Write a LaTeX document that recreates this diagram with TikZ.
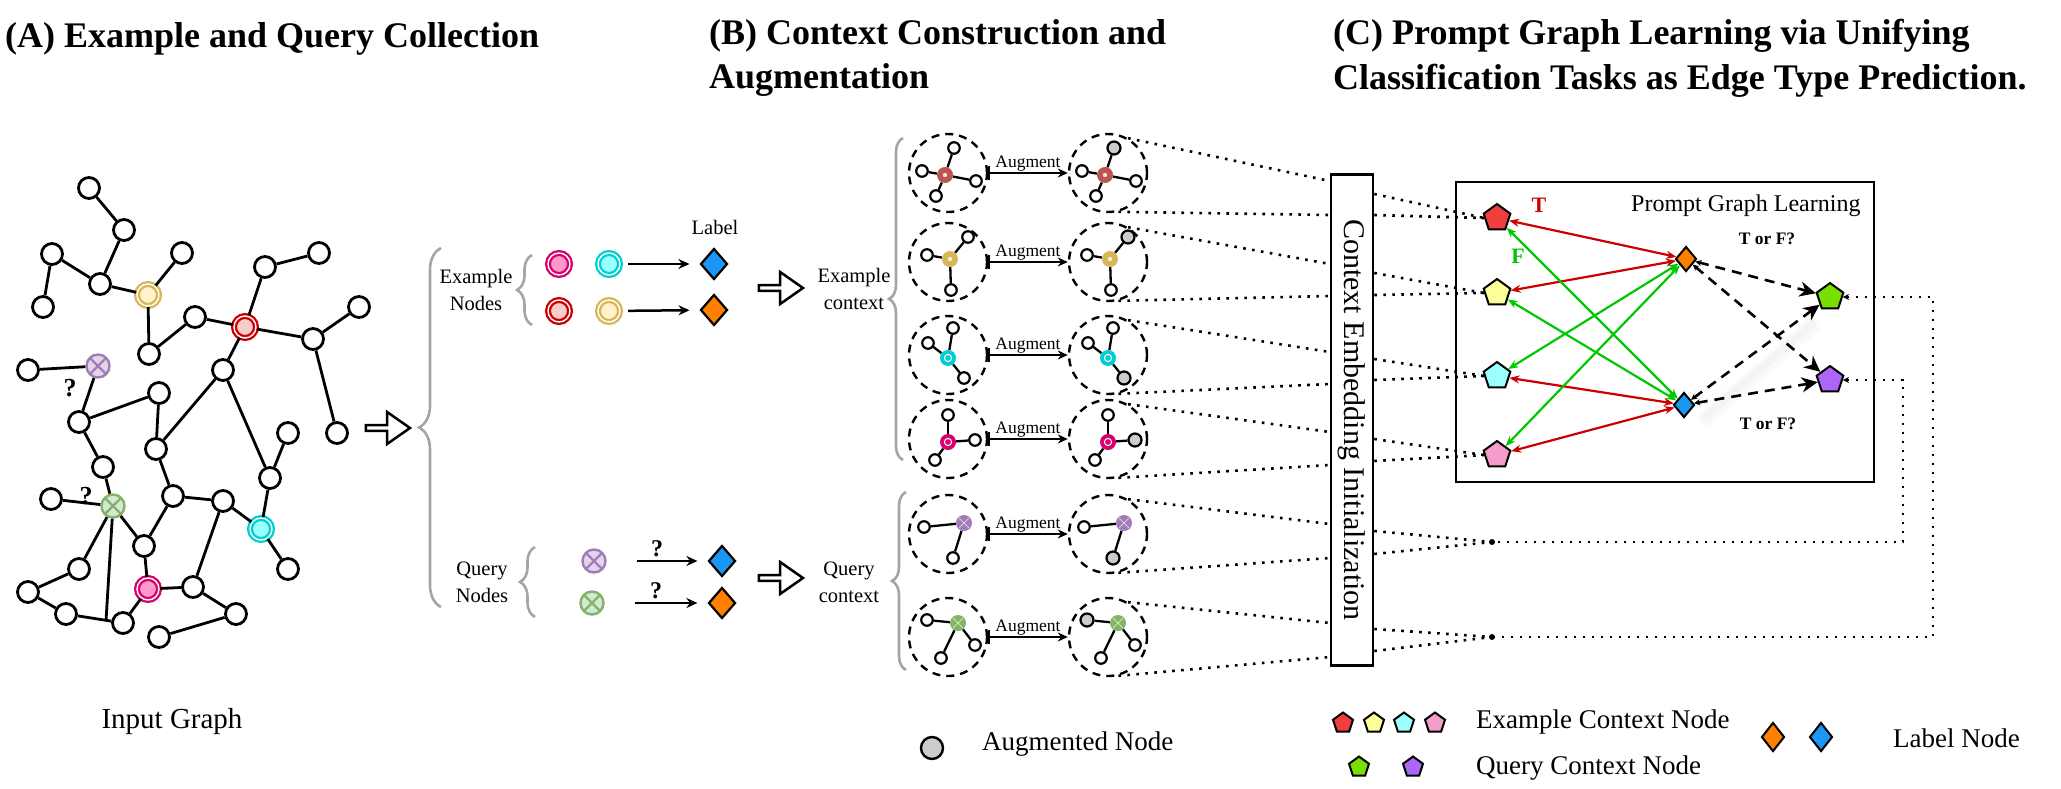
\documentclass[tikz,border=0pt]{standalone}
\usepackage{graphicx}
\usepackage{fontspec}
\setmainfont{Liberation Serif}
\usetikzlibrary{arrows.meta,calc,shapes.geometric,shapes.arrows,decorations.pathreplacing}

\definecolor{exred}{RGB}{204,0,0}
\definecolor{exredf}{RGB}{248,206,204}
\definecolor{exyel}{RGB}{214,182,86}
\definecolor{exyelf}{RGB}{255,242,204}
\definecolor{excya}{RGB}{0,206,209}
\definecolor{excyaf}{RGB}{153,255,255}
\definecolor{expin}{RGB}{214,0,110}
\definecolor{expinf}{RGB}{255,153,204}
\definecolor{qpur}{RGB}{161,124,184}
\definecolor{qpurf}{RGB}{225,213,231}
\definecolor{qgre}{RGB}{130,179,102}
\definecolor{qgref}{RGB}{213,232,212}
\definecolor{ctxred}{RGB}{190,84,78}
\definecolor{lblue}{RGB}{27,150,245}
\definecolor{lorange}{RGB}{255,128,0}
\definecolor{pred}{RGB}{240,62,62}
\definecolor{pyel}{RGB}{255,255,153}
\definecolor{pcya}{RGB}{153,255,255}
\definecolor{ppin}{RGB}{244,156,204}
\definecolor{pgre}{RGB}{119,224,0}
\definecolor{ppur}{RGB}{172,102,250}
\definecolor{tred}{RGB}{204,0,0}
\definecolor{fgreen}{RGB}{0,200,0}
\definecolor{auggray}{RGB}{204,204,204}
\definecolor{bracegray}{RGB}{165,165,165}

\tikzset{
  gnode/.style={circle,draw,line width=2.8pt,fill=white,minimum size=21pt,inner sep=0pt},
  gedge/.style={line width=2.8pt},
  exnode/.style 2 args={circle,draw=#1,double=white,double distance=1.4pt,line width=2.3pt,fill=#2,minimum size=22pt,inner sep=0pt},
  qnode/.style 2 args={circle,draw=#1,fill=#2,line width=2.4pt,minimum size=23pt,inner sep=0pt,
    path picture={\draw[#1,line width=2.2pt] (path picture bounding box.south west) -- (path picture bounding box.north east)
      (path picture bounding box.north west) -- (path picture bounding box.south east);}},
  lbl/.style={diamond,draw,line width=2.2pt,fill=#1,minimum width=27pt,minimum height=31pt,inner sep=0pt},
  larrow/.style={line width=2.5pt,-{Stealth[length=11pt,width=10pt]}},
  bigarrow/.style={single arrow,draw,line width=2.5pt,fill=white,minimum height=44pt,minimum width=32pt,
    single arrow head extend=6pt,single arrow tip angle=70,inner sep=0pt},
  gbrace/.style={decorate,decoration={brace,amplitude=#1},line width=2.6pt,bracegray},
  txt/.style={font=\fontsize{20.5}{27}\selectfont,align=center},
  ttl/.style={font=\fontsize{36}{44.5}\selectfont\bfseries,align=left,inner sep=0pt,anchor=north west},
  qmark/.style={font=\fontsize{26}{30}\selectfont\bfseries,inner sep=1pt},
  ctxcirc/.style={circle,draw,line width=2.4pt,dash pattern=on 8pt off 6pt,minimum size=78pt,inner sep=0pt},
  ctxedge/.style={line width=2.3pt},
  leaf/.style={circle,draw,line width=2.2pt,fill=white,minimum size=11.5pt,inner sep=0pt},
  aug/.style={leaf,fill=auggray,minimum size=13pt},
  ctxdot/.style={circle,fill=#1,minimum size=16pt,inner sep=0pt,
    path picture={\fill[white,opacity=0.8] (path picture bounding box.center) circle (2.2pt);}},
  ctxring/.style={circle,fill=#1,minimum size=16pt,inner sep=0pt,
    path picture={\draw[white,line width=1pt] (path picture bounding box.center) circle (3.6pt);}},
  ctxx/.style={circle,fill=#1,minimum size=16pt,inner sep=0pt,
    path picture={\draw[white,line width=0.9pt,opacity=0.6,shorten >=4.5pt,shorten <=4.5pt] (path picture bounding box.south west) -- (path picture bounding box.north east);
      \draw[white,line width=0.9pt,opacity=0.6,shorten >=4.5pt,shorten <=4.5pt] (path picture bounding box.north west) -- (path picture bounding box.south east);}},
  augarrow/.style={line width=2.4pt,{Bar[width=14pt,line width=1.8pt]}-{Stealth[length=10pt,width=9pt]}},
  augtxt/.style={font=\fontsize{17.5}{20}\selectfont,above=0pt,inner sep=1pt},
  dotline/.style={line width=2.6pt,dash pattern=on 2.6pt off 6.4pt},
  pent/.style={regular polygon,regular polygon sides=5,draw,line width=2pt,fill=#1,minimum size=28pt,inner sep=0pt},
  pdia/.style={diamond,draw,line width=2pt,fill=#1,minimum width=21pt,minimum height=25pt,inner sep=0pt},
  tarrow/.style={tred,line width=2.2pt,{Stealth[length=10pt,width=8pt]}-{Stealth[length=10pt,width=8pt]}},
  farrow/.style={fgreen,line width=2.2pt,{Stealth[length=10pt,width=8pt]}-{Stealth[length=10pt,width=8pt]}},
  qarrow/.style={line width=2.6pt,dash pattern=on 10pt off 7pt,{Stealth[length=6pt,width=6pt]}-{Stealth[length=16pt,width=15pt,inset=5pt]}},
  tof/.style={font=\fontsize{17.5}{20}\selectfont\bfseries},
  tlab/.style={font=\fontsize{22}{24}\selectfont\bfseries},
  legtxt/.style={font=\fontsize{27}{30}\selectfont,anchor=west,inner sep=0pt},
}

% small context graph: name, centre, centre style, centre offset, leaves
\newcommand{\minig}[5]{%
  \node[ctxcirc] (#1) at (#2) {};
  \node[#3] (#1c) at ($(#2)+(#4)$) {};
  \foreach \lx/\ly/\ls [count=\i] in {#5}{%
    \node[\ls] (#1l\i) at ($(#2)+(\lx,\ly)$) {};
    \draw[ctxedge] (#1c) -- (#1l\i);
  }%
}

\begin{document}
\begin{tikzpicture}[x=1pt,y=-1pt]
\useasboundingbox (0,0) rectangle (2061,789);

% titles
\node[ttl] (tA) at (5,22) {(A) Example and Query Collection};
\node[ttl] (tB) at (709,19) {(B) Context Construction and\\Augmentation};
\node[ttl] (tC) at (1333,19) {(C) Prompt Graph Learning via Unifying\\Classification Tasks as Edge Type Prediction.};

% (A) input graph
\foreach \n/\x/\y in {1/89/188,2/124/230,3/52/254,4/100/284,5/43/307,6/182/253,7/149/354,8/195/317,
  9/265/267,10/319/253,11/313/339,12/359/307,13/337/433,14/223/370,15/28/370,16/79/422,17/159/393,
  18/156/449,19/103/467,20/51/499,21/173/496,22/223/501,23/288/433,24/270/478,25/288/569,26/144/546,
  27/79/569,28/193/587,29/28/592,30/66/614,31/123/623,32/236/614,33/159/637}
  \node[gnode] (g\n) at (\x,\y) {};
\node[exnode={exyel}{exyelf}] (gY) at (148,295) {};
\node[exnode={exred}{exredf}] (gR) at (245,327) {};
\node[exnode={excya}{excyaf}] (gC) at (261,529) {};
\node[exnode={expin}{expinf}] (gK) at (148,589) {};
\node[qnode={qpur}{qpurf}] (gP) at (98,366) {};
\node[qnode={qgre}{qgref}] (gG) at (113,506) {};
\coordinate (gend) at (106,621);
\foreach \a/\b in {g1/g2,g2/g4,g3/g4,g3/g5,g4/gY,gY/g6,gY/g7,g7/g8,g8/gR,gR/g9,g9/g10,gR/g11,g11/g12,
  g11/g13,gR/g14,g14/g18,g14/g24,gP/g15,gP/g16,g16/g17,g16/g19,g17/g18,g18/g21,g19/gG,gG/g20,gG/g27,
  gG/g26,gG/gend,g21/g22,g21/g26,g22/gC,g22/g28,g24/g23,g24/gC,gC/g25,g26/gK,gK/g28,gK/g31,g28/g32,
  g32/g33,g27/g29,g29/g30,g30/g31}
  \draw[gedge] (\a) -- (\b);
\node[qmark] (qm1) at (70,388) {?};
\node[qmark] (qm2) at (86,496) {?};
\node[font=\fontsize{29}{34}\selectfont] (lblIG) at (172,722) {Input Graph};

\node[bigarrow] (arrA) at (386,428) {};
\draw[gbrace=22pt] (441,607) -- (441,248);

% example nodes
\node[txt] (exN) at (476,290) {Example\\Nodes};
\draw[gbrace=15pt] (532,325) -- (532,255);
\node[exnode={expin}{expinf}] (aK) at (559,264) {};
\node[exnode={excya}{excyaf}] (aC) at (609,264) {};
\node[exnode={exred}{exredf}] (aR) at (559,311) {};
\node[exnode={exyel}{exyelf}] (aY) at (609,311) {};
\node[lbl=lblue] (aDb) at (714,264) {};
\node[lbl=lorange] (aDo) at (714,310) {};
\node[txt] (aLab) at (715,227) {Label};
\draw[larrow,shorten <=7pt,shorten >=10pt] (aC) -- (aDb);
\draw[larrow,shorten <=7pt,shorten >=10pt] (aY) -- (aDo);

% query nodes
\node[txt] (qN) at (482,582) {Query\\Nodes};
\draw[gbrace=15pt] (535,617) -- (535,547);
\node[qnode={qpur}{qpurf}] (aP) at (594,561) {};
\node[qnode={qgre}{qgref}] (aG) at (592,603) {};
\node[lbl=lblue] (aQb) at (722,561) {};
\node[lbl=lorange] (aQo) at (722,603) {};
\draw[larrow,shorten <=30pt,shorten >=10pt] (aP) -- node[qmark,above=2pt,font=\fontsize{24}{28}\selectfont\bfseries] {?} (aQb);
\draw[larrow,shorten <=30pt,shorten >=10pt] (aG) -- node[qmark,above=2pt,font=\fontsize{24}{28}\selectfont\bfseries] {?} (aQo);

\node[bigarrow] (arrB1) at (779,288) {};
\node[bigarrow] (arrB2) at (779,578) {};

% (B) contexts
\node[txt] (exC) at (854,289) {Example\\context};
\draw[gbrace=14pt] (903,460) -- (903,138);
\node[txt] (qC) at (849,582) {Query\\context};
\draw[gbrace=14pt] (906,670) -- (906,492);

\minig{cL1}{948,173}{ctxdot=ctxred}{-3,2}{6/-25/leaf,-26/-2/leaf,-12/23/leaf,28/8/leaf}
\minig{cR1}{1108,173}{ctxdot=ctxred}{-3,2}{6/-25/aug,-26/-2/leaf,-12/23/leaf,28/8/leaf}
\minig{cL2}{948,262}{ctxdot=exyel}{2,-3}{20/-25/leaf,-21/-7/leaf,3/28/leaf}
\minig{cR2}{1108,262}{ctxdot=exyel}{2,-3}{20/-25/aug,-21/-7/leaf,3/28/leaf}
\minig{cL3}{948,355}{ctxring=excya}{0,3}{5/-27/leaf,-20/-12/leaf,16/23/leaf}
\minig{cR3}{1108,355}{ctxring=excya}{0,3}{5/-27/leaf,-20/-12/leaf,16/23/aug}
\minig{cL4}{948,439}{ctxring=expin}{0,3}{0/-24/leaf,27/1/leaf,-13/21/leaf}
\minig{cR4}{1108,439}{ctxring=expin}{0,3}{0/-24/leaf,27/1/aug,-13/21/leaf}
\minig{cL5}{948,534}{ctxx=qpur}{16,-11}{-24/-7/leaf,5/24/leaf}
\minig{cR5}{1108,534}{ctxx=qpur}{16,-11}{-24/-7/leaf,5/24/aug}
\minig{cL6}{948,637}{ctxx=qgre}{10,-14}{-21/-17/leaf,-7/21/leaf,27/8/leaf}
\minig{cR6}{1108,637}{ctxx=qgre}{10,-14}{-21/-17/aug,-7/21/leaf,27/8/leaf}
\foreach \k in {1,...,6}
  \draw[augarrow] (cL\k) -- node[augtxt] {Augment} (cR\k);

% context embedding
\node[draw,line width=2.5pt,minimum width=42pt,minimum height=491pt,inner sep=0pt,
  font=\fontsize{30}{32}\selectfont] (cei) at (1352,420) {\rotatebox{-90}{Context Embedding Initialization}};
\foreach \k/\ya/\yb in {1/181/215,2/264/296,3/352/384,4/432/465,5/524/558,6/623/657}{
  \draw[dotline] (cR\k.60) -- (cei.west |- 0,\ya);
  \draw[dotline] (cR\k.-75) -- (cei.west |- 0,\yb);
}

% (C) prompt graph
\node[draw,line width=2.5pt,minimum width=418pt,minimum height=300pt] (pgl) at (1665,332) {};
\node[font=\fontsize{24}{28}\selectfont,anchor=east] (pglT) at (1864,206) {Prompt Graph Learning};
\node[pent=pred] (pRed) at (1497,218) {};
\node[pent=pyel] (pYel) at (1497,293) {};
\node[pent=pcya] (pCya) at (1497,376) {};
\node[pent=ppin] (pPin) at (1497,455) {};
\node[pent=pgre] (pGre) at (1830,297) {};
\node[pent=ppur] (pPur) at (1830,380) {};
\node[pdia=lorange] (dOra) at (1686,259) {};
\node[pdia=lblue] (dBlu) at (1684,405) {};

\foreach \k/\ya/\yb/\t in {1/194/215/pRed,2/273/295/pYel,3/359/380/pCya,4/439/461/pPin}{
  \draw[dotline] (cei.east |- 0,\ya) -- (\t.west);
  \draw[dotline] (cei.east |- 0,\yb) -- (\t.west);
}
\coordinate (m5) at (1492,542);
\coordinate (m6) at (1492,637);
\draw[dotline] (cei.east |- 0,531) -- (m5);
\draw[dotline] (cei.east |- 0,554) -- (m5);
\draw[dotline] (cei.east |- 0,629) -- (m6);
\draw[dotline] (cei.east |- 0,651) -- (m6);
\fill (m5) circle (3pt) (m6) circle (3pt);
\draw[dotline,{Stealth[length=6pt,width=6pt]}-] (pPur.east) -- ++(60,0) |- (m5);
\draw[dotline,{Stealth[length=6pt,width=6pt]}-] (pGre.east) -- ++(90,0) |- (m6);

\foreach \a/\b in {pRed/dOra,pYel/dOra,pCya/dBlu,pPin/dBlu}
  \draw[tarrow] (\a) -- (\b);
\foreach \a/\b in {pRed/dBlu,pYel/dBlu,pCya/dOra,pPin/dOra}
  \draw[farrow] (\a) -- (\b);

% soft shadow under one query edge
\draw[line width=16pt,line cap=round,black,opacity=0.018] (1706,418) -- (1812,326);
\draw[line width=8pt,line cap=round,black,opacity=0.025] (1706,416) -- (1812,324);
\foreach \a/\b in {dOra/pGre,dOra/pPur,dBlu/pGre,dBlu/pPur}
  \draw[qarrow] (\a) -- (\b);
\node[tlab,text=tred] (lT) at (1539,205) {T};
\node[tlab,text=fgreen] (lF) at (1518,256) {F};
\node[tof] (tf1) at (1767,239) {T or F?};
\node[tof] (tf2) at (1768,424) {T or F?};

% legend
\node[aug,minimum size=22pt,line width=2.4pt] (lgA) at (932,748) {};
\node[legtxt] (lgAt) at (982,744) {Augmented Node};
\foreach \c/\x in {pred/1343,pyel/1374,pcya/1404,ppin/1435}
  \node[pent=\c,minimum size=21pt] (lg\c) at (\x,723) {};
\node[legtxt] (lgEt) at (1476,722) {Example Context Node};
\node[pent=pgre,minimum size=21pt] (lgG) at (1359,767) {};
\node[pent=ppur,minimum size=21pt] (lgP) at (1413,767) {};
\node[legtxt] (lgQt) at (1476,768) {Query Context Node};
\node[pdia=lorange,minimum width=23pt,minimum height=29pt] (lgDo) at (1773,737) {};
\node[pdia=lblue,minimum width=23pt,minimum height=29pt] (lgDb) at (1821,737) {};
\node[legtxt] (lgLt) at (1893,738) {Label Node};
\end{tikzpicture}
\end{document}
